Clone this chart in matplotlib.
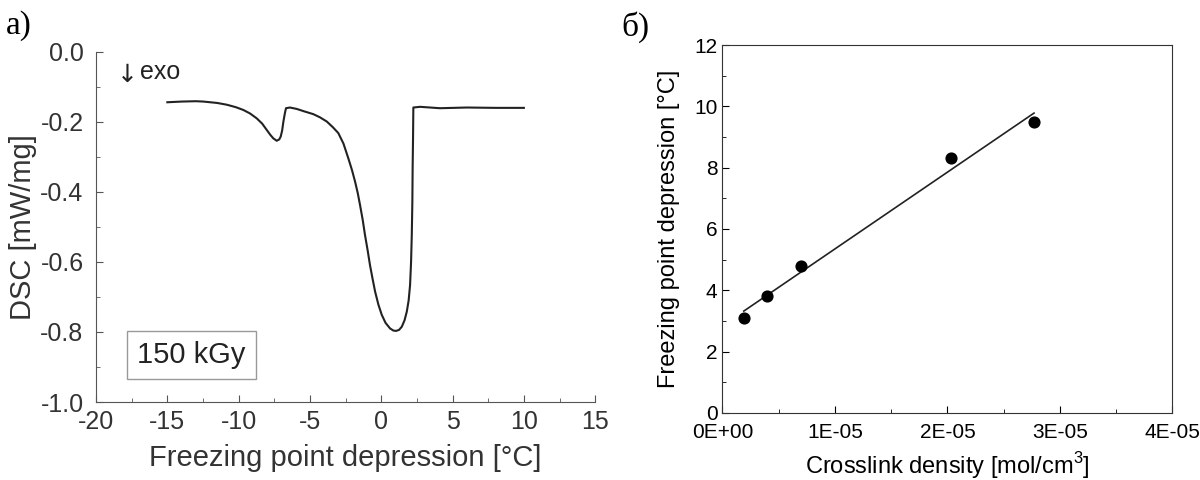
import numpy as np
import matplotlib.pyplot as plt
from matplotlib.ticker import MultipleLocator

# a) DSC curve, 150 kGy
temp = [-15.0, -14.0, -13.0, -12.47, -11.5, -10.83, -10.2, -9.67, -9.2, -8.73, -8.35, -8.03,
        -7.78, -7.57, -7.33, -7.15, -7.05, -6.95, -6.86, -6.76, -6.68, -6.4, -5.93, -5.4,
        -4.76, -4.3, -3.82, -3.4, -3.01, -2.65, -2.31, -2.05, -1.84, -1.65, -1.49, -1.3,
        -1.14, -0.95, -0.79, -0.6, -0.43, -0.2, 0.035, 0.3, 0.62, 0.85, 1.04, 1.25, 1.44,
        1.63, 1.79, 1.92, 2.02, 2.09, 2.14, 2.18, 2.2, 2.23, 2.25, 2.72, 4.12, 6.0, 8.0, 10.0]
dsc = [-0.144, -0.142, -0.141, -0.142, -0.146, -0.151, -0.158, -0.166, -0.176, -0.19, -0.205,
       -0.223, -0.237, -0.247, -0.254, -0.25, -0.242, -0.225, -0.199, -0.176, -0.161, -0.159,
       -0.163, -0.17, -0.178, -0.187, -0.199, -0.215, -0.232, -0.262, -0.304, -0.338, -0.37,
       -0.403, -0.437, -0.48, -0.523, -0.568, -0.609, -0.65, -0.685, -0.722, -0.751, -0.774,
       -0.79, -0.796, -0.797, -0.794, -0.785, -0.767, -0.742, -0.71, -0.666, -0.6, -0.523,
       -0.43, -0.332, -0.24, -0.159, -0.157, -0.161, -0.159, -0.16, -0.16]

# б) freezing point depression vs crosslink density
crosslink = [1.9e-6, 4.0e-6, 7.0e-6, 2.03e-5, 2.77e-5]
fpd = [3.09, 3.80, 4.80, 8.30, 9.48]

plt.rcParams['font.family'] = ['Liberation Sans', 'DejaVu Sans']
plt.rcParams['mathtext.fontset'] = 'custom'
plt.rcParams['mathtext.rm'] = 'Liberation Sans'

fig = plt.figure(figsize=(12, 4.8), dpi=100)

# ---- left panel
gray = '#555555'
txt = '#333333'
ax1 = fig.add_axes([0.08, 0.1625, 0.416, 0.7295])
ax1.plot(temp, dsc, color='#222222', lw=1.5)
ax1.set_xlim(-20, 15)
ax1.set_ylim(-1.0, 0.0)
ax1.set_xticks([-20, -15, -10, -5, 0, 5, 10, 15], ['-20', '-15', '-10', '-5', '0', '5', '10', '15'])
ax1.set_yticks([0, -0.2, -0.4, -0.6, -0.8, -1.0], ['0.0', '-0.2', '-0.4', '-0.6', '-0.8', '-1.0'])
ax1.xaxis.set_minor_locator(MultipleLocator(2.5))
ax1.yaxis.set_minor_locator(MultipleLocator(0.1))
for s in ['top', 'right']:
    ax1.spines[s].set_visible(False)
for s in ['left', 'bottom']:
    ax1.spines[s].set_color(gray)
ax1.tick_params(which='both', direction='in', colors=gray, labelcolor=txt, labelsize=18)
ax1.tick_params(axis='y', pad=9)
ax1.tick_params(axis='x', pad=6)
ax1.tick_params(which='major', length=5)
ax1.tick_params(which='minor', length=3)
ax1.set_xlabel('Freezing point depression [°C]', fontsize=21, color=txt, labelpad=7)
ax1.set_ylabel('DSC [mW/mg]', fontsize=21, color=txt, labelpad=2)
ax1.text(-13.3, -0.866, '150 kGy', fontsize=21, color='#222222', ha='center', va='center',
         bbox=dict(boxstyle='square,pad=0.35', fc='white', ec='#999999', lw=1))
ax1.text(-17.8, -0.065, '↓', fontsize=18, color='#222222', ha='center', va='center',
         family=['DejaVu Sans'])
ax1.text(-16.9, -0.058, 'exo', fontsize=18, color='#222222', ha='left', va='center')
fig.text(0.005, 0.93, 'а)', fontsize=24, family=['Liberation Serif', 'DejaVu Serif'])

# ---- right panel
ax2 = fig.add_axes([0.602, 0.14, 0.375, 0.766])
ax2.scatter(crosslink, fpd, s=60, color='black', zorder=3)
slope, inter = np.polyfit(crosslink, fpd, 1)
xl = np.array([crosslink[0], crosslink[-1]])
ax2.plot(xl, slope * xl + inter, color='#222222', lw=1.2)
ax2.set_xlim(0, 4e-5)
ax2.set_ylim(0, 12)
ax2.xaxis.set_minor_locator(MultipleLocator(0.5e-5))
ax2.yaxis.set_major_locator(MultipleLocator(2))
ax2.yaxis.set_minor_locator(MultipleLocator(1))
ax2.set_xticks([0, 1e-5, 2e-5, 3e-5, 4e-5], ['0E+00', '1E-05', '2E-05', '3E-05', '4E-05'])
ax2.tick_params(which='both', direction='in', labelsize=15)
ax2.tick_params(axis='x', pad=7)
ax2.tick_params(which='major', length=5)
ax2.tick_params(which='minor', length=3)
for s in ax2.spines.values():
    s.set_color('#333333')
ax2.set_xlabel('Crosslink density [mol/cm$^{3}$]', fontsize=17, labelpad=6)
ax2.set_ylabel('Freezing point depression [°C]', fontsize=17, labelpad=10)
fig.text(0.518, 0.925, 'б)', fontsize=24, family=['Liberation Serif', 'DejaVu Serif'])

fig.savefig('out.png', dpi=100)
